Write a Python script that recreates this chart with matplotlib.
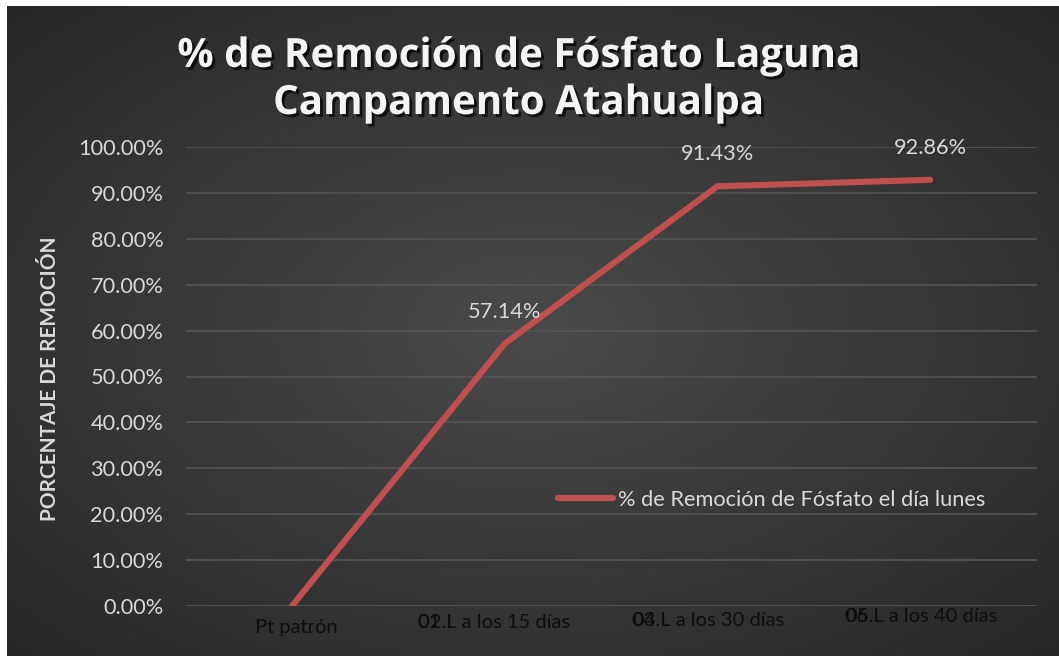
import numpy as np
import matplotlib
matplotlib.use("Agg")
import matplotlib.pyplot as plt
import matplotlib.patheffects as pe
from matplotlib.transforms import ScaledTranslation, IdentityTransform
from matplotlib.ticker import PercentFormatter

categories = ["Pt patrón", "02.L a los 15 días", "04.L a los 30 días", "06.L a los 40 días"]
overlap_prefix = [None, "01", "03", "05"]
values = [0.0, 57.14, 91.43, 92.86]
labels_shown = [None, "57.14%", "91.43%", "92.86%"]
series_name = "% de Remoción de Fósfato el día lunes"
title = "% de Remoción de Fósfato Laguna\nCampamento Atahualpa"
ylabel = "PORCENTAJE DE REMOCIÓN"

W, H = 1059, 656
fig = plt.figure(figsize=(W / 100, H / 100), dpi=100)
fig.patch.set_facecolor("white")

# background with radial gradient
bg = fig.add_axes([7 / W, 0, 1 - 7 / W, 1 - 6 / H])
bg.set_axis_off()
yy, xx = np.mgrid[0:1:300j, 0:1:480j]
r = np.sqrt(((xx - 0.5) / 0.75) ** 2 + ((yy - 0.5) / 0.75) ** 2)
r = np.clip(r, 0, 1)
c0 = np.array([0x4a, 0x4a, 0x4a]) / 255
c1 = np.array([0x25, 0x25, 0x25]) / 255
img = c0[None, None, :] * (1 - r[..., None]) + c1[None, None, :] * r[..., None]
bg.imshow(img, aspect="auto", extent=[0, 1, 0, 1], interpolation="bilinear")
bg.set_xlim(0, 1)
bg.set_ylim(0, 1)

left, right = 185.5 / W, 1036.5 / W
bottom, top = (H - 606) / H, (H - 147) / H
ax = fig.add_axes([left, bottom, right - left, top - bottom])
ax.set_facecolor("none")

FS = 15.7
x = np.arange(len(categories))
line_color = "#c0504d"
ax.plot(x, values, color=line_color, lw=4.4, solid_capstyle="round",
        solid_joinstyle="miter", label=series_name, zorder=3)

for xi, v, lab in zip(x, values, labels_shown):
    if lab:
        ax.annotate(lab, (xi, v), xytext=(0, 23), textcoords="offset points",
                    ha="center", va="center", color="#d9d9d9",
                    fontsize=FS, family="Lato")

ax.set_xlim(-0.5, len(categories) - 0.5)
ax.set_ylim(0, 100)
ax.set_yticks(np.arange(0, 101, 10))
ax.yaxis.set_major_formatter(PercentFormatter(decimals=2))
ax.grid(axis="y", color="#555555", lw=1.2)
ax.set_axisbelow(True)
for s in ax.spines.values():
    s.set_visible(False)
ax.tick_params(axis="y", length=0, pad=16, labelsize=FS, labelcolor="#d9d9d9")
ax.tick_params(axis="x", length=0, pad=9, labelsize=14.5, labelcolor="#0d0d0d")
for t in ax.get_yticklabels():
    t.set_family("Lato")
ax.set_xticks(x)
ax.set_xticklabels(categories, family="Lato")

# small offsets of category labels (dx px, dy px)
offs = [(4, -1), (-11, 4), (-9, 7), (-9, 11)]
for t, (dx, dy) in zip(ax.get_xticklabels(), offs):
    t.set_transform(t.get_transform() + ScaledTranslation(dx / 100, dy / 100, fig.dpi_scale_trans))

ax.set_ylabel(ylabel, fontsize=15, fontweight="bold", color="#d9d9d9", family="Lato")
ax.yaxis.set_label_coords(60 / W, (H - 379) / H, transform=fig.transFigure)

fig.text(518 / W, (H - 80) / H, title, ha="center", va="center", fontsize=29,
         fontweight="bold", color="#f4f4f4", family="Open Sans", linespacing=1.27,
         path_effects=[pe.SimplePatchShadow(offset=(2, -2), shadow_rgbFace="black", alpha=0.7),
                       pe.Normal()])

leg = ax.legend(loc="center left", bbox_to_anchor=(558 / W, (H - 500) / H),
                bbox_transform=fig.transFigure, frameon=False,
                prop={"family": "Lato", "size": FS}, handlelength=2.5,
                handletextpad=0.23, borderaxespad=0, borderpad=0)
for t in leg.get_texts():
    t.set_color("#d9d9d9")

fig.canvas.draw()
for t, pre in zip(ax.get_xticklabels(), overlap_prefix):
    if pre:
        bb = t.get_window_extent()
        fig.text(bb.x0, bb.y1, pre, transform=IdentityTransform(), ha="left",
                 va="top", fontsize=14.5, family="Lato", color="#0d0d0d")

fig.savefig("out.png", dpi=100)
